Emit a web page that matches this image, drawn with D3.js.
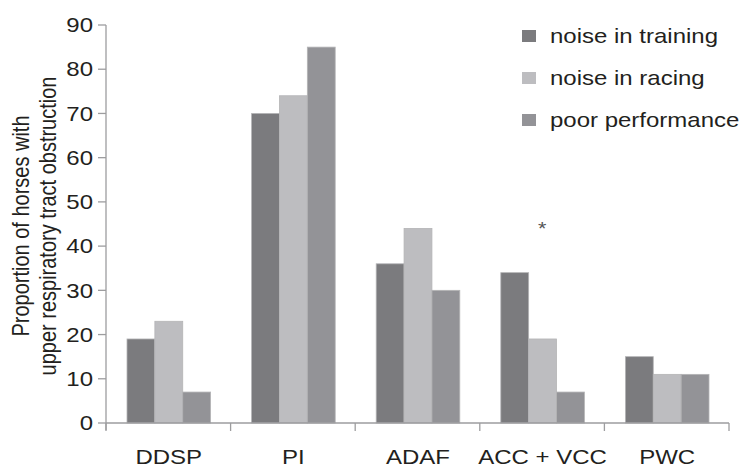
<!DOCTYPE html>
<html>
<head>
<meta charset="utf-8">
<script src="https://cdn.jsdelivr.net/npm/d3@7"></script>
<style>
  html, body { margin: 0; padding: 0; background: #fff; }
  svg text { font-family: "Liberation Sans", Arial, Helvetica, sans-serif; fill: #231f20; }
</style>
</head>
<body>
<svg id="chart" width="745" height="469"></svg>
<script>
const categories = ["DDSP", "PI", "ADAF", "ACC + VCC", "PWC"];
const seriesNames = ["noise in training", "noise in racing", "poor performance"];
const noiseTraining = [19, 70, 36, 34, 15];
const noiseRacing = [23, 74, 44, 19, 11];
const poorPerformance = [7, 85, 30, 7, 11];
const yTicks = [0, 10, 20, 30, 40, 50, 60, 70, 80, 90];
const yTitle = ["Proportion of horses with", "upper respiratory tract obstruction"];
const annotationCategory = "ACC + VCC";
const annotationValue = 45;
const colors = ["#7b7b7e", "#bdbdc0", "#939397"];

const series = [noiseTraining, noiseRacing, poorPerformance];
const svg = d3.select("#chart");
const SX = 1.2; // horizontal stretch of the original figure's text

const x0 = d3.scaleBand().domain(categories).range([106, 729]).padding(0);
const x1 = d3.scaleBand().domain(d3.range(series.length))
  .range([21, x0.bandwidth() - 20]).padding(0);
const y = d3.scaleLinear().domain([0, 90]).range([423, 25]);

const axisColor = "#9d9d9f";

// bars
categories.forEach((c, ci) => {
  const g = svg.append("g").attr("transform", `translate(${x0(c)},0)`);
  series.forEach((s, si) => {
    g.append("rect")
      .attr("x", x1(si))
      .attr("y", y(s[ci]))
      .attr("width", x1.bandwidth())
      .attr("height", y(0) - y(s[ci]))
      .attr("fill", colors[si])
      .attr("stroke", "#b4b4b6")
      .attr("stroke-width", 0.8);
  });
});

// y axis
svg.append("line").attr("x1", 106).attr("x2", 106).attr("y1", y(90)).attr("y2", y(0) + 7)
  .attr("stroke", axisColor).attr("stroke-width", 1.3);
yTicks.forEach(t => {
  svg.append("line").attr("x1", 98).attr("x2", 106).attr("y1", y(t)).attr("y2", y(t))
    .attr("stroke", axisColor).attr("stroke-width", 1.3);
  svg.append("text")
    .attr("transform", `translate(93,${y(t)}) scale(${SX},1)`)
    .attr("text-anchor", "end").attr("dy", "0.36em")
    .style("font-size", "20px").text(t);
});

// x axis
svg.append("line").attr("x1", x0.range()[0]).attr("x2", x0.range()[1]).attr("y1", y(0)).attr("y2", y(0))
  .attr("stroke", axisColor).attr("stroke-width", 1.3);
const boundaries = categories.map(c => x0(c)).concat([x0(categories[categories.length - 1]) + x0.bandwidth()]);
boundaries.forEach(b => {
  svg.append("line").attr("x1", b).attr("x2", b).attr("y1", y(0)).attr("y2", y(0) + 8)
    .attr("stroke", axisColor).attr("stroke-width", 1.3);
});
categories.forEach(c => {
  svg.append("text")
    .attr("transform", `translate(${x0(c) + x1.range()[0] + (x1.range()[1] - x1.range()[0]) / 2},464) scale(${SX},1)`)
    .attr("text-anchor", "middle")
    .style("font-size", "20px").text(c);
});

// y title
yTitle.forEach((line, i) => {
  svg.append("text")
    .attr("transform", `translate(${29 + i * 27},226) scale(${SX},1) rotate(-90)`)
    .attr("text-anchor", "middle")
    .style("font-size", "20px").text(line);
});

// annotation asterisk
svg.append("text")
  .attr("transform", `translate(${x0(annotationCategory) + x0.bandwidth() / 2},${y(annotationValue) + 11}) scale(${SX},1)`)
  .attr("text-anchor", "middle")
  .style("font-size", "18px").style("fill", "#555").text("*");

// legend
seriesNames.forEach((n, i) => {
  const cy = 36 + i * 42;
  svg.append("rect").attr("x", 522).attr("y", cy - 6).attr("width", 14).attr("height", 12)
    .attr("fill", colors[i]);
  svg.append("text")
    .attr("transform", `translate(550,${cy + 7}) scale(${SX},1)`)
    .style("font-size", "20px").text(n);
});
</script>
</body>
</html>
